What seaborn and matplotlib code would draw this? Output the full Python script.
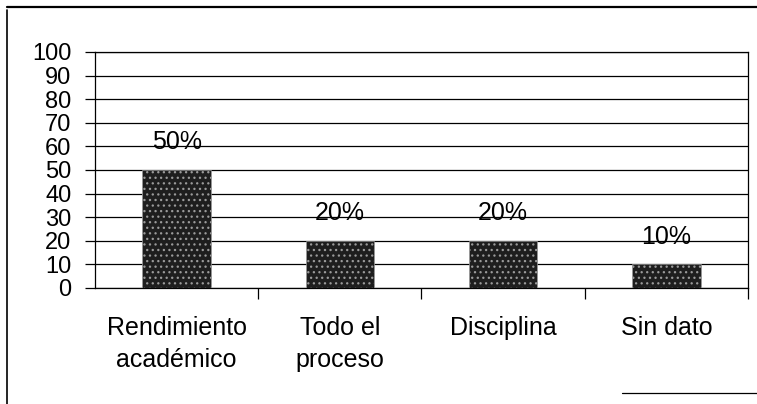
import matplotlib
matplotlib.use('Agg')
import matplotlib.pyplot as plt
import seaborn as sns
import pandas as pd
from matplotlib.lines import Line2D

categorias = ['Rendimiento\nacadémico', 'Todo el\nproceso', 'Disciplina', 'Sin dato']
valores = [50, 20, 20, 10]
etiquetas = ['50%', '20%', '20%', '10%']
yticks = list(range(0, 101, 10))

sns.set_style('white')
plt.rcParams['font.family'] = ['Liberation Sans', 'DejaVu Sans']
plt.rcParams['hatch.linewidth'] = 0.9
plt.rcParams['text.color'] = 'black'
plt.rcParams['xtick.color'] = 'black'
plt.rcParams['ytick.color'] = 'black'

df = pd.DataFrame({'cat': categorias, 'val': valores})

fig = plt.figure(figsize=(7.57, 4.04), dpi=100)
ax = fig.add_axes([95 / 757, 1 - 288 / 404, (748 - 95) / 757, (288 - 52) / 404])

sns.barplot(data=df, x='cat', y='val', ax=ax, color='#1e1e1e', width=0.42,
            saturation=1, edgecolor='#1e1e1e', linewidth=0.5)
for p in ax.patches:
    p.set_hatch('...')
    p.set_edgecolor('#9a9a9a')
    p.set_zorder(3)

# lineas de division
for y in yticks:
    ax.axhline(y, color='black', lw=0.9, zorder=1)

ax.set_ylim(0, 100)
ax.set_xlim(-0.5, 3.5)
ax.set_yticks(yticks)
ax.set_yticklabels([str(v) for v in yticks], fontsize=17, color='black')
ax.tick_params(axis='y', direction='out', length=7, width=0.9, pad=10, left=True, color='black')
ax.set_xticks(range(4))
ax.set_xticklabels(categorias, fontsize=18, linespacing=1.45, color='black')
ax.tick_params(axis='x', which='major', length=0, pad=20)
ax.set_xticks([0.5, 1.5, 2.5, 3.5], minor=True)
ax.tick_params(axis='x', which='minor', direction='out', length=8, width=0.9, bottom=True, color='black')
ax.set_xlabel('')
ax.set_ylabel('')

for s in ax.spines.values():
    s.set_visible(True)
    s.set_color('black')
    s.set_linewidth(0.9)

for i, (v, t) in enumerate(zip(valores, etiquetas)):
    ax.annotate(t, (i, v), xytext=(0, 20), textcoords='offset points',
                ha='center', va='center', fontsize=18, color='black', zorder=4)

# marco exterior
fig.add_artist(Line2D([7 / 757, 7 / 757], [1 - 10 / 404, 0], color='black', lw=1.2))
fig.add_artist(Line2D([7 / 757, 1], [1 - 7 / 404, 1 - 7 / 404], color='black', lw=1.6))
fig.add_artist(Line2D([622 / 757, 1], [1 - 393 / 404, 1 - 393 / 404], color='black', lw=0.9))

plt.savefig('out.png', dpi=100)
